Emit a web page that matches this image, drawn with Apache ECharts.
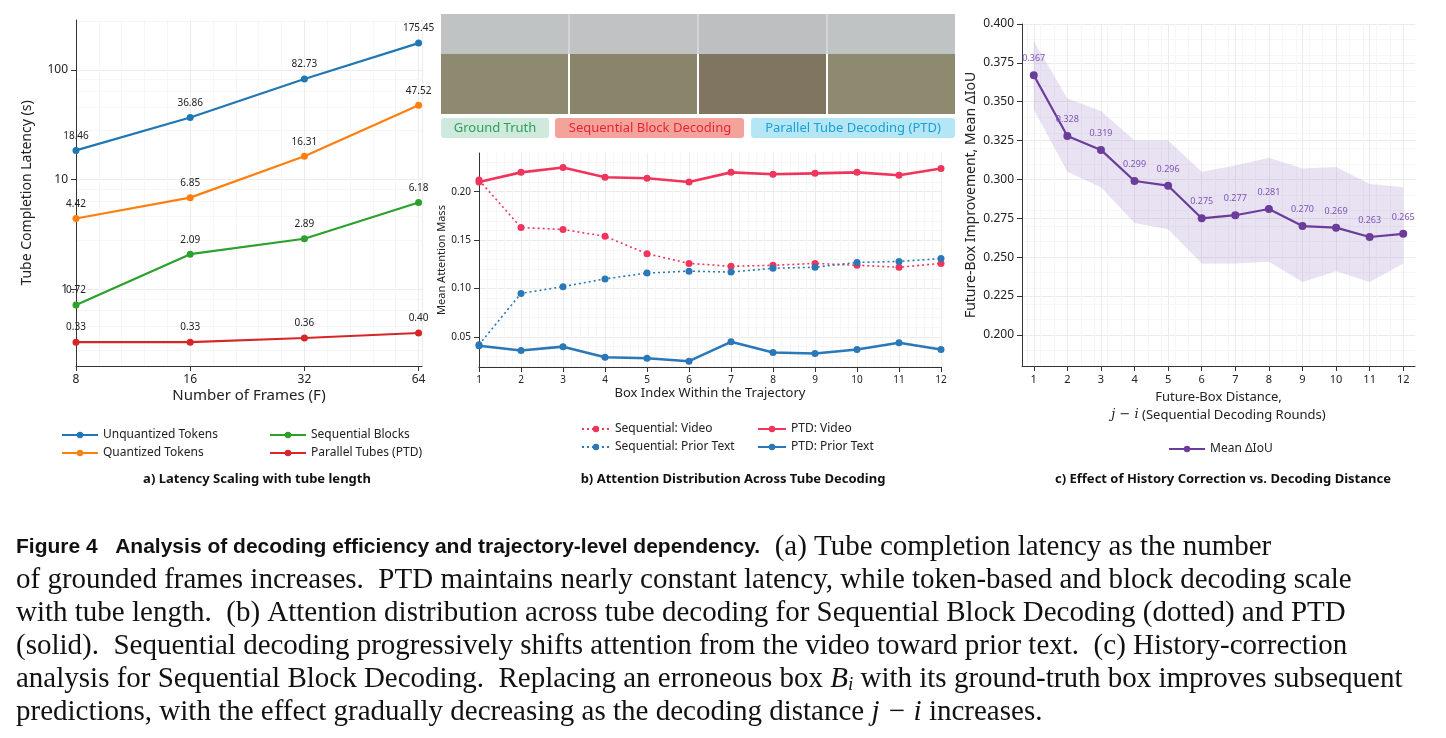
<!DOCTYPE html>
<html>
<head>
<meta charset="utf-8">
<title>Figure 4</title>
<script src="https://cdn.jsdelivr.net/npm/echarts@6/dist/echarts.min.js"></script>
<style>html,body{margin:0;background:#fff}#c{width:1446px;height:738px}</style>
</head>
<body>
<div id="c"></div>
<script>
// (a) latency
var frames = [8, 16, 32, 64];
var unquant = [18.46, 36.86, 82.73, 175.45];
var quant = [4.42, 6.85, 16.31, 47.52];
var seqBlocks = [0.72, 2.09, 2.89, 6.18];
var ptdTubes = [0.33, 0.33, 0.36, 0.40];
// (b) attention
var boxIdx = [1, 2, 3, 4, 5, 6, 7, 8, 9, 10, 11, 12];
var seqVideo = [0.212, 0.163, 0.161, 0.154, 0.136, 0.126, 0.123, 0.124, 0.126, 0.124, 0.122, 0.126];
var ptdVideo = [0.210, 0.220, 0.225, 0.215, 0.214, 0.210, 0.220, 0.218, 0.219, 0.220, 0.217, 0.224];
var seqText = [0.042, 0.095, 0.102, 0.110, 0.116, 0.118, 0.117, 0.121, 0.122, 0.127, 0.128, 0.131];
var ptdText = [0.041, 0.036, 0.040, 0.029, 0.028, 0.025, 0.045, 0.034, 0.033, 0.037, 0.044, 0.037];
// (c) history correction
var dist = [1, 2, 3, 4, 5, 6, 7, 8, 9, 10, 11, 12];
var meanIoU = [0.367, 0.328, 0.319, 0.299, 0.296, 0.275, 0.277, 0.281, 0.270, 0.269, 0.263, 0.265];
var bandLow = [0.345, 0.305, 0.295, 0.272, 0.268, 0.246, 0.246, 0.247, 0.234, 0.241, 0.234, 0.246];
var bandHigh = [0.389, 0.352, 0.344, 0.325, 0.325, 0.305, 0.309, 0.314, 0.307, 0.308, 0.297, 0.295];
var ticksB = [0.05, 0.10, 0.15, 0.20];
var ticksC = [0.200, 0.225, 0.250, 0.275, 0.300, 0.325, 0.350, 0.375, 0.400];

var F = 'Noto Sans';
var txt = '#222';
function zip(xs, ys) { return xs.map(function (x, i) { return [x, ys[i]]; }); }
var axLine = {lineStyle: {color: '#333'}};
var split = {show: true, lineStyle: {color: '#ececec'}};
var minor = {show: true, lineStyle: {color: '#f6f6f6'}};

function latSeries(name, vals, color) {
  return {name: name, type: 'line', xAxisIndex: 0, yAxisIndex: 0,
    data: zip(frames.map(Math.log2), vals), color: color, symbolSize: 7, symbol: 'circle',
    lineStyle: {width: 2.2},
    label: {show: true, position: 'top', distance: 6, fontSize: 10, color: txt, fontFamily: F,
      formatter: function (p) { return p.value[1].toFixed(2); }}};
}
function attSeries(name, vals, color, dotted) {
  return {name: name, type: 'line', xAxisIndex: 1, yAxisIndex: 1, data: zip(boxIdx, vals),
    color: color, symbol: 'circle', symbolSize: 7,
    lineStyle: {width: dotted ? 1.6 : 2.6, type: dotted ? [2, 3] : 'solid'}};
}

var option = {
  animation: false,
  textStyle: {fontFamily: F},
  grid: [
    {left: 76, top: 20, width: 346, height: 346},
    {left: 479, top: 153, width: 462, height: 214},
    {left: 1022, top: 24, width: 393, height: 342}
  ],
  xAxis: [
    {gridIndex: 0, type: 'value', min: 3, max: 6.03, interval: 1, axisLine: axLine,
      axisTick: {show: true}, splitLine: split, minorTick: {show: false}, minorSplitLine: minor,
      axisLabel: {color: txt, fontSize: 12, showMaxLabel: false, formatter: function (v) { return Math.round(Math.pow(2, v)); }},
      name: 'Number of Frames (F)', nameLocation: 'middle', nameGap: 22, nameTextStyle: {fontSize: 15, color: txt}},
    {gridIndex: 1, type: 'value', min: 1, max: 12, interval: 1, axisLine: axLine,
      splitLine: split, minorSplitLine: minor, axisLabel: {color: txt, fontSize: 10},
      name: 'Box Index Within the Trajectory', nameLocation: 'middle', nameGap: 20, nameTextStyle: {fontSize: 13, color: txt}},
    {gridIndex: 2, type: 'value', min: 0.65, max: 12.35, axisLine: axLine, splitLine: split, minorSplitLine: minor,
      axisTick: {customValues: dist}, axisLabel: {color: txt, fontSize: 11, customValues: dist},
      name: 'Future-Box Distance,\n{i|j − i} (Sequential Decoding Rounds)', nameLocation: 'middle', nameGap: 22,
      nameTextStyle: {fontSize: 13, color: txt, lineHeight: 18, rich: {i: {fontStyle: 'italic', fontSize: 13, fontFamily: 'DejaVu Serif'}}}}
  ],
  yAxis: [
    {gridIndex: 0, type: 'log', logBase: 10, min: 0.2, max: 285, axisLine: {show: true, lineStyle: {color: '#333'}},
      axisTick: {show: true, customValues: [1, 10, 100]}, splitLine: split, minorSplitLine: minor, minorTick: {show: false},
      axisLabel: {color: txt, fontSize: 12, customValues: [1, 10, 100]},
      name: 'Tube Completion Latency (s)', nameLocation: 'middle', nameGap: 42, nameTextStyle: {fontSize: 14, color: txt}},
    {gridIndex: 1, type: 'value', min: 0.019, max: 0.24, axisLine: {show: true, lineStyle: {color: '#333'}},
      axisTick: {show: true, customValues: ticksB}, splitLine: split, minorSplitLine: minor,
      axisLabel: {color: txt, fontSize: 10, customValues: ticksB, formatter: function (v) { return v.toFixed(2); }},
      name: 'Mean Attention Mass', nameLocation: 'middle', nameGap: 32, nameTextStyle: {fontSize: 11, color: txt}},
    {gridIndex: 2, type: 'value', min: 0.18, max: 0.4, axisLine: {show: true, lineStyle: {color: '#333'}},
      axisTick: {show: true, customValues: ticksC}, splitLine: split, minorSplitLine: minor,
      axisLabel: {color: txt, fontSize: 12, customValues: ticksC, formatter: function (v) { return v.toFixed(3); }},
      name: 'Future-Box Improvement, Mean ΔIoU', nameLocation: 'middle', nameGap: 44, nameTextStyle: {fontSize: 14, color: txt}}
  ],
  legend: [
    {left: 56, top: 424, orient: 'vertical', itemGap: 6, itemWidth: 36, itemHeight: 8, textStyle: {fontSize: 12, color: txt},
      data: ['Unquantized Tokens', 'Quantized Tokens']},
    {left: 264, top: 424, orient: 'vertical', itemGap: 6, itemWidth: 36, itemHeight: 8, textStyle: {fontSize: 12, color: txt},
      data: ['Sequential Blocks', 'Parallel Tubes (PTD)']},
    {left: 576, top: 418, orient: 'vertical', itemGap: 6, itemWidth: 28, itemHeight: 8, textStyle: {fontSize: 12, color: txt},
      data: ['Sequential: Video', 'Sequential: Prior Text']},
    {left: 752, top: 418, orient: 'vertical', itemGap: 6, itemWidth: 28, itemHeight: 8, textStyle: {fontSize: 12, color: txt},
      data: ['PTD: Video', 'PTD: Prior Text']},
    {left: 1163, top: 438, itemWidth: 36, itemHeight: 8, textStyle: {fontSize: 12, color: txt}, data: ['Mean ΔIoU']}
  ],
  series: [
    latSeries('Unquantized Tokens', unquant, '#1f77b4'),
    latSeries('Quantized Tokens', quant, '#ff7f0e'),
    latSeries('Sequential Blocks', seqBlocks, '#2ca02c'),
    latSeries('Parallel Tubes (PTD)', ptdTubes, '#d62728'),
    attSeries('Sequential: Video', seqVideo, '#f0355d', true),
    attSeries('Sequential: Prior Text', seqText, '#2a78b8', true),
    attSeries('PTD: Video', ptdVideo, '#f0355d', false),
    attSeries('PTD: Prior Text', ptdText, '#2a78b8', false),
    {name: 'band', type: 'custom', xAxisIndex: 2, yAxisIndex: 2, silent: true, z: 1,
      data: dist.map(function (d, i) { return [d, bandLow[i], bandHigh[i]]; }),
      renderItem: function (params, api) {
        if (params.dataIndex !== 0) return null;
        var pts = [];
        for (var i = 0; i < dist.length; i++) pts.push(api.coord([dist[i], bandHigh[i]]));
        for (var j = dist.length - 1; j >= 0; j--) pts.push(api.coord([dist[j], bandLow[j]]));
        return {type: 'polygon', shape: {points: pts}, style: {fill: 'rgba(155,125,200,0.22)'}};
      }},
    {name: 'Mean ΔIoU', type: 'line', xAxisIndex: 2, yAxisIndex: 2, data: zip(dist, meanIoU), color: '#6a3d9a',
      symbol: 'circle', symbolSize: 8, lineStyle: {width: 2.2}, z: 3,
      label: {show: true, position: 'top', distance: 8, fontSize: 9, color: '#7b55b5',
        formatter: function (p) { return p.value[1].toFixed(3); }}}
  ],
  graphic: [
    // photo strip placeholders
    {type: 'rect', shape: {x: 441, y: 14, width: 127, height: 100}, style: {fill: '#8d8a6f'}},
    {type: 'rect', shape: {x: 570, y: 14, width: 127, height: 100}, style: {fill: '#8a846a'}},
    {type: 'rect', shape: {x: 699, y: 14, width: 127, height: 100}, style: {fill: '#7f7560'}},
    {type: 'rect', shape: {x: 828, y: 14, width: 127, height: 100}, style: {fill: '#8d8a70'}},
    {type: 'rect', shape: {x: 441, y: 14, width: 514, height: 40}, style: {fill: '#c9ccd2', opacity: 0.85}},
    {type: 'rect', shape: {x: 441, y: 118, width: 108, height: 20, r: 3}, style: {fill: '#cfe9dd'}},
    {type: 'text', x: 495, y: 128, style: {text: 'Ground Truth', fill: '#2ca05a', fontSize: 13, align: 'center', verticalAlign: 'middle', fontFamily: F}},
    {type: 'rect', shape: {x: 555, y: 118, width: 189, height: 20, r: 3}, style: {fill: '#f3a39c'}},
    {type: 'text', x: 650, y: 128, style: {text: 'Sequential Block Decoding', fill: '#e8252f', fontSize: 13, align: 'center', verticalAlign: 'middle', fontFamily: F}},
    {type: 'rect', shape: {x: 751, y: 118, width: 204, height: 20, r: 3}, style: {fill: '#b5e6f6'}},
    {type: 'text', x: 853, y: 128, style: {text: 'Parallel Tube Decoding (PTD)', fill: '#1a9fd3', fontSize: 13, align: 'center', verticalAlign: 'middle', fontFamily: F}},
    // panel titles
    {type: 'text', x: 257, y: 479, style: {text: 'a) Latency Scaling with tube length', fontSize: 13, fontWeight: 'bold', fill: '#111', align: 'center', verticalAlign: 'middle', fontFamily: F}},
    {type: 'text', x: 733, y: 479, style: {text: 'b) Attention Distribution Across Tube Decoding', fontSize: 13, fontWeight: 'bold', fill: '#111', align: 'center', verticalAlign: 'middle', fontFamily: F}},
    {type: 'text', x: 1223, y: 479, style: {text: 'c) Effect of History Correction vs. Decoding Distance', fontSize: 13, fontWeight: 'bold', fill: '#111', align: 'center', verticalAlign: 'middle', fontFamily: F}},
    // caption
    {type: 'text', x: 16, y: 547, style: {
      text: '{b|Figure 4   Analysis of decoding efficiency and trajectory-level dependency.}{s|  (a) Tube completion latency as the number}',
      verticalAlign: 'middle', rich: {b: {fontFamily: 'Liberation Sans', fontWeight: 'bold', fontSize: 21, fill: '#111'}, s: {fontFamily: 'Liberation Serif', fontSize: 29, fill: '#111'}}}},
    {type: 'text', x: 16, y: 580, style: {text: 'of grounded frames increases.  PTD maintains nearly constant latency, while token-based and block decoding scale', fontFamily: 'Liberation Serif', fontSize: 29, fill: '#111', verticalAlign: 'middle'}},
    {type: 'text', x: 16, y: 613, style: {text: 'with tube length.  (b) Attention distribution across tube decoding for Sequential Block Decoding (dotted) and PTD', fontFamily: 'Liberation Serif', fontSize: 29, fill: '#111', verticalAlign: 'middle'}},
    {type: 'text', x: 16, y: 646, style: {text: '(solid).  Sequential decoding progressively shifts attention from the video toward prior text.  (c) History-correction', fontFamily: 'Liberation Serif', fontSize: 29, fill: '#111', verticalAlign: 'middle'}},
    {type: 'text', x: 16, y: 679, style: {text: '{n|analysis for Sequential Block Decoding.  Replacing an erroneous box }{i|B}{sub|i}{n| with its ground-truth box improves subsequent}',
      verticalAlign: 'middle', rich: {n: {fontFamily: 'Liberation Serif', fontSize: 29, fill: '#111'}, i: {fontFamily: 'Liberation Serif', fontStyle: 'italic', fontSize: 29, fill: '#111'}, sub: {fontFamily: 'Liberation Serif', fontStyle: 'italic', fontSize: 19, fill: '#111', padding: [12, 0, 0, 0]}}}},
    {type: 'text', x: 16, y: 712, style: {text: '{n|predictions, with the effect gradually decreasing as the decoding distance }{i|j − i}{n| increases.}',
      verticalAlign: 'middle', rich: {n: {fontFamily: 'Liberation Serif', fontSize: 29, fill: '#111'}, i: {fontFamily: 'Liberation Serif', fontStyle: 'italic', fontSize: 29, fill: '#111'}}}}
  ]
};
var chart = echarts.init(document.getElementById('c'));
chart.setOption(option);
</script>
</body>
</html>
